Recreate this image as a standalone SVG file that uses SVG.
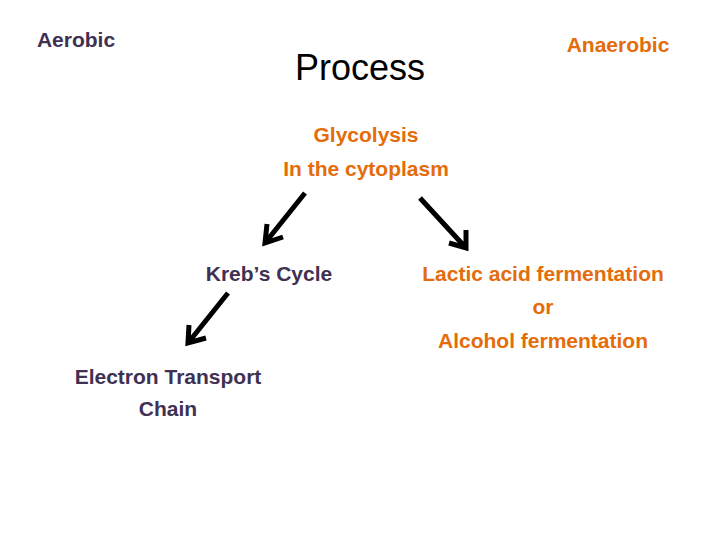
<svg xmlns="http://www.w3.org/2000/svg" width="720" height="540" viewBox="0 0 720 540">
<style>
text{font-family:"Liberation Sans",Arial,sans-serif;font-weight:bold;font-size:21px;text-anchor:middle}
.or{fill:#e46c0a}.pu{fill:#403152}.ar{stroke:#000;stroke-width:5;fill:none;stroke-linecap:butt}
</style>
<rect width="720" height="540" fill="#fff"/>
<g id="aerobic"><text x="76" y="47" class="pu">Aerobic</text></g>
<g id="process"><text x="360" y="80" style="font-weight:normal;font-size:36px;fill:#000">Process</text></g>
<g id="anaerobic"><text x="618" y="52" class="or">Anaerobic</text></g>
<g id="glycolysis"><text x="366" y="142" class="or">Glycolysis</text><text x="366" y="176" class="or">In the cytoplasm</text></g>
<g id="krebs"><text x="269" y="281" class="pu">Kreb’s Cycle</text></g>
<g id="fermentation"><text x="543" y="281" class="or">Lactic acid fermentation</text><text x="543" y="314" class="or">or</text><text x="543" y="348" class="or">Alcohol fermentation</text></g>
<g id="etc"><text x="168" y="384" class="pu">Electron Transport</text><text x="168" y="416" class="pu">Chain</text></g>
<g id="connectors" class="ar">
<path d="M305 193L265 243M267 224L265 243L283 237"/>
<path d="M420 198L466 248M466 230L466 248L449 243"/>
<path d="M228 293L188 343M189 325L188 343L206 338"/>
</g>
</svg>
